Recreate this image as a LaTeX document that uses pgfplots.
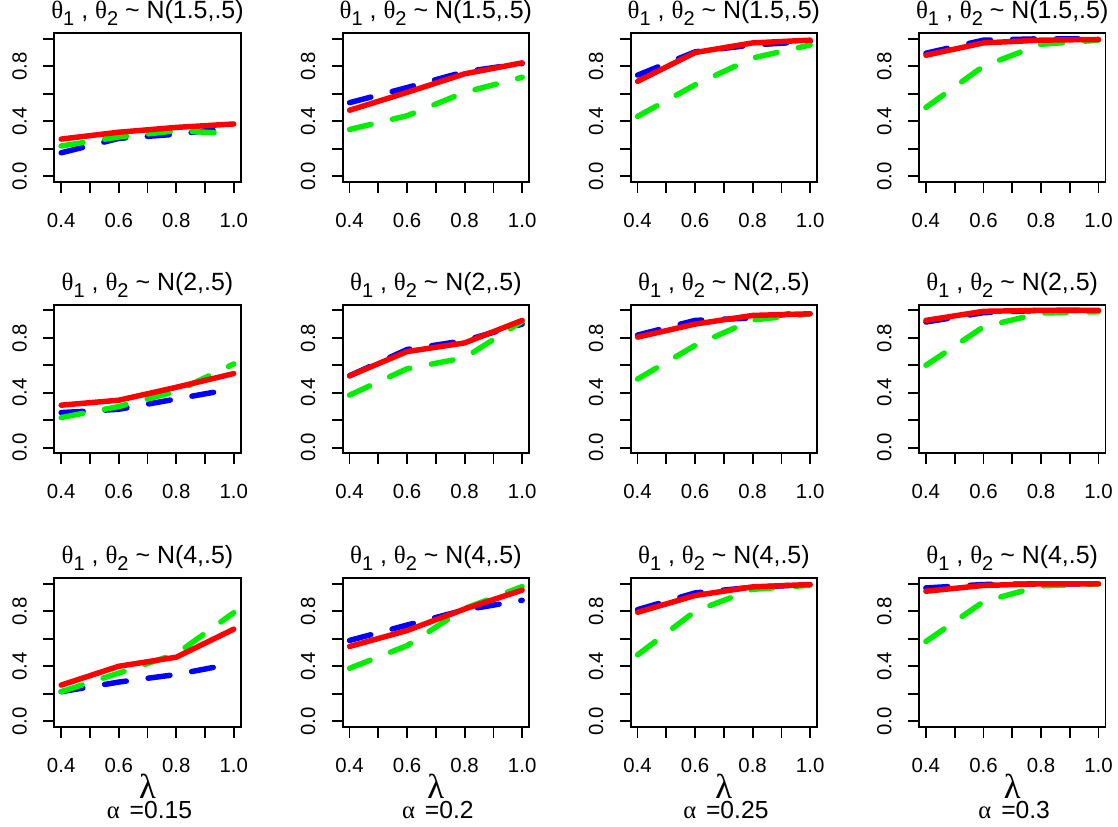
\documentclass[border=0pt]{standalone}
\usepackage{pgfplots}
\pgfplotsset{compat=1.18}
\usepackage{fontspec}
\setmainfont{Liberation Sans}
\newfontfamily\grk{Liberation Serif}

\definecolor{rblue}{RGB}{0,0,255}
\definecolor{rgreen}{RGB}{0,238,0}
\definecolor{rred}{RGB}{255,0,0}

% panel title: theta_1 , theta_2 ~ N(mu,.5)
\newcommand{\sub}[1]{\raisebox{-0.28em}{\fontsize{15}{15}\selectfont #1}}
\newcommand{\ttl}[1]{{\grk θ}\sub{1} , {\grk θ}\sub{2} \textasciitilde{} N(#1,.5)}

\pgfplotsset{
  panel/.style={
    scale only axis, width=139.8pt, height=111.3pt,
    anchor=south west,
    xmin=0.376, xmax=1.024, ymin=-0.04, ymax=1.04,
    xtick={0.4,0.5,0.6,0.7,0.8,0.9,1.0},
    xticklabels={0.4,,0.6,,0.8,,1.0},
    ytick={0,0.2,0.4,0.6,0.8,1},
    yticklabels={0.0,,0.4,,0.8,},
    xtick pos=bottom, ytick pos=left,
    tick align=outside,
    major tick length=8.25pt,
    every tick/.style={black, line width=1.3pt},
    axis line style={line width=1.3pt},
    tick label style={font=\fontsize{15.3}{16}\selectfont, inner sep=0pt},
    xticklabel style={anchor=base, yshift=-25.75pt},
    yticklabel style={rotate=90, anchor=base, yshift=12.45pt},
    title style={at={(0.5,1)}, anchor=base, yshift=5pt, inner sep=0pt,
                 font=\fontsize{18.7}{20}\selectfont},
    no markers,
  },
  bl/.style={rblue, line width=4.1pt, dash pattern=on 16.5pt off 16.5pt,
             line cap=round, line join=round},
  gr/.style={rgreen, line width=4.1pt, dash pattern=on 16.5pt off 16.5pt,
             line cap=round, line join=round},
  rd/.style={rred, line width=4.1pt, line cap=round, line join=round},
}

% bottom annotations of each column: lambda, then the alpha value
\newcommand{\alab}[2]{%
  \node[anchor=base, inner sep=0pt, yshift=-53.7pt,
    font=\fontsize{26}{26}\selectfont] at (#1.south) {{\grk λ}};
  \node[anchor=base, inner sep=0pt, yshift=-69pt,
    font=\fontsize{18.5}{18.5}\selectfont] at ([xshift=1.5pt]#1.south) {{\grk α}\hspace{0.4em}=0.#2};}

\begin{document}
\begin{tikzpicture}
\path[use as bounding box] (0,0) rectangle (838.5pt,620.25pt);

% ---------- row 1: N(1.5,.5) ----------
\begin{axis}[panel, at={(40.7pt,483.98pt)}, title={\ttl{1.5}}]
\addplot[bl] coordinates {(0.4,0.17)(0.6,0.275)(0.8,0.305)(1.0,0.355)};
\addplot[gr] coordinates {(0.4,0.22)(0.6,0.285)(0.8,0.33)(1.0,0.31)};
\addplot[rd] coordinates {(0.4,0.27)(0.6,0.32)(0.8,0.355)(1.0,0.38)};
\end{axis}
\begin{axis}[panel, at={(257.0pt,483.98pt)}, title={\ttl{1.5}}]
\addplot[bl] coordinates {(0.4,0.535)(0.6,0.645)(0.8,0.76)(1.0,0.82)};
\addplot[gr] coordinates {(0.4,0.34)(0.6,0.44)(0.8,0.61)(1.0,0.72)};
\addplot[rd] coordinates {(0.4,0.48)(0.6,0.61)(0.8,0.745)(1.0,0.825)};
\end{axis}
\begin{axis}[panel, at={(473.0pt,483.98pt)}, title={\ttl{1.5}}]
\addplot[bl] coordinates {(0.4,0.735)(0.6,0.905)(0.8,0.955)(1.0,0.98)};
\addplot[gr] coordinates {(0.4,0.435)(0.6,0.665)(0.8,0.86)(1.0,0.955)};
\addplot[rd] coordinates {(0.4,0.69)(0.6,0.90)(0.8,0.97)(1.0,0.99)};
\end{axis}
\begin{axis}[panel, at={(689.25pt,483.98pt)}, title={\ttl{1.5}}]
\addplot[bl] coordinates {(0.4,0.895)(0.6,0.99)(0.8,1.0)(1.0,1.0)};
\addplot[gr] coordinates {(0.4,0.50)(0.6,0.80)(0.8,0.96)(1.0,0.99)};
\addplot[rd] coordinates {(0.4,0.88)(0.6,0.97)(0.8,0.99)(1.0,0.995)};
\end{axis}

% ---------- row 2: N(2,.5) ----------
\begin{axis}[panel, at={(40.7pt,280.3pt)}, title={\ttl{2}}]
\addplot[bl] coordinates {(0.4,0.256)(0.6,0.28)(0.8,0.355)(1.0,0.43)};
\addplot[gr] coordinates {(0.4,0.22)(0.6,0.30)(0.8,0.41)(1.0,0.61)};
\addplot[rd] coordinates {(0.4,0.31)(0.6,0.346)(0.8,0.44)(1.0,0.54)};
\end{axis}
\begin{axis}[panel, at={(257.0pt,280.3pt)}, title={\ttl{2}}]
\addplot[bl] coordinates {(0.4,0.524)(0.6,0.715)(0.8,0.78)(1.0,0.90)};
\addplot[gr] coordinates {(0.4,0.383)(0.6,0.575)(0.8,0.655)(1.0,0.92)};
\addplot[rd] coordinates {(0.4,0.524)(0.6,0.70)(0.8,0.763)(1.0,0.927)};
\end{axis}
\begin{axis}[panel, at={(473.0pt,280.3pt)}, title={\ttl{2}}]
\addplot[bl] coordinates {(0.4,0.82)(0.6,0.927)(0.8,0.944)(1.0,0.99)};
\addplot[gr] coordinates {(0.4,0.50)(0.6,0.745)(0.8,0.93)(1.0,0.975)};
\addplot[rd] coordinates {(0.4,0.805)(0.6,0.90)(0.8,0.963)(1.0,0.975)};
\end{axis}
\begin{axis}[panel, at={(689.25pt,280.3pt)}, title={\ttl{2}}]
\addplot[bl] coordinates {(0.4,0.915)(0.6,0.983)(0.8,1.0)(1.0,1.0)};
\addplot[gr] coordinates {(0.4,0.60)(0.6,0.88)(0.8,0.98)(1.0,0.99)};
\addplot[rd] coordinates {(0.4,0.927)(0.6,0.993)(0.8,1.0)(1.0,1.0)};
\end{axis}

% ---------- row 3: N(4,.5) ----------
\begin{axis}[panel, name=c1, at={(40.7pt,75.2pt)}, title={\ttl{4}}]
\addplot[bl] coordinates {(0.4,0.215)(0.6,0.285)(0.8,0.34)(1.0,0.42)};
\addplot[gr] coordinates {(0.4,0.215)(0.6,0.35)(0.8,0.49)(1.0,0.79)};
\addplot[rd] coordinates {(0.4,0.263)(0.6,0.40)(0.8,0.466)(1.0,0.67)};
\end{axis}
\begin{axis}[panel, name=c2, at={(257.0pt,75.2pt)}, title={\ttl{4}}]
\addplot[bl] coordinates {(0.4,0.588)(0.6,0.70)(0.8,0.81)(1.0,0.88)};
\addplot[gr] coordinates {(0.4,0.385)(0.6,0.55)(0.8,0.82)(1.0,0.98)};
\addplot[rd] coordinates {(0.4,0.544)(0.6,0.66)(0.8,0.817)(1.0,0.954)};
\end{axis}
\begin{axis}[panel, name=c3, at={(473.0pt,75.2pt)}, title={\ttl{4}}]
\addplot[bl] coordinates {(0.4,0.812)(0.6,0.934)(0.8,0.975)(1.0,0.995)};
\addplot[gr] coordinates {(0.4,0.483)(0.6,0.80)(0.8,0.96)(1.0,0.99)};
\addplot[rd] coordinates {(0.4,0.793)(0.6,0.915)(0.8,0.978)(1.0,0.995)};
\end{axis}
\begin{axis}[panel, name=c4, at={(689.25pt,75.2pt)}, title={\ttl{4}}]
\addplot[bl] coordinates {(0.4,0.97)(0.6,0.995)(0.8,1.0)(1.0,1.0)};
\addplot[gr] coordinates {(0.4,0.58)(0.6,0.87)(0.8,0.985)(1.0,1.0)};
\addplot[rd] coordinates {(0.4,0.946)(0.6,0.988)(0.8,1.0)(1.0,1.0)};
\end{axis}

\alab{c1}{15}
\alab{c2}{2}
\alab{c3}{25}
\alab{c4}{3}
\end{tikzpicture}
\end{document}
